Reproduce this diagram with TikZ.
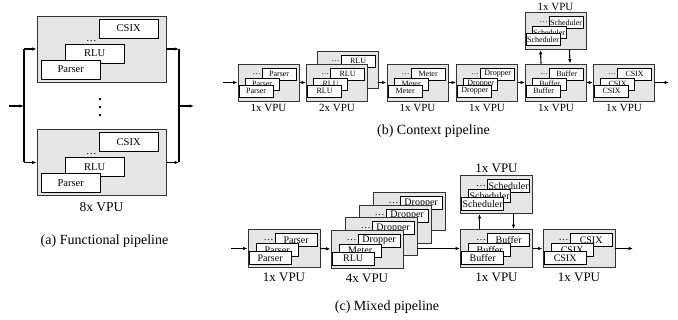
\documentclass[tikz,border=0pt]{standalone}
\usepackage{fontspec}
\setmainfont{Liberation Serif}
\usetikzlibrary{calc,positioning,arrows.meta}

\tikzset{
  infont/.style={font=\fontsize{8}{8}\selectfont},
  vpu/.style={draw=black!80, fill=black!10, line width=0.9pt, inner sep=0pt},
  inbox/.style={draw, fill=white, line width=0.6pt, inner sep=0pt, infont},
  dots/.style={inner sep=1pt, infont},
  toback/.style={xshift=-3pt, yshift=-4pt},
  tomid/.style={xshift=-17pt, yshift=-10pt},
  tofront/.style={xshift=-6pt, yshift=-7pt},
  cnt/.style={font=\fontsize{13.5}{14}\selectfont, inner sep=1pt},
  caption/.style={font=\fontsize{14}{16}\selectfont},
  flow/.style={-{Latex[length=4.5pt,width=3.5pt]}, line width=1.1pt},
}

% one VPU: name, centre, back, middle, front
\newcommand\vpu[5]{%
  \node[vpu] (#1) at (#2) {};
  \node[inbox, anchor=north east, toback] (#1-3) at (#1.north east) {#3};
  \node[dots, anchor=east] (#1-d) at (#1-3.west) {\dots};
  \node[inbox, anchor=north east, tomid] (#1-2) at (#1-3.north east) {#4};
  \node[inbox, anchor=north east, tofront] (#1-1) at (#1-2.north east) {#5};
}

\begin{document}
\begin{tikzpicture}[x=1pt, y=-1pt]
  \useasboundingbox (0,0) rectangle (678,320);

  % (a) functional pipeline
  \begin{scope}[infont/.style={font=\fontsize{10.5}{11}\selectfont},
      inbox/.append style={minimum width=59pt, minimum height=19pt},
      vpu/.append style={minimum width=129pt, minimum height=66pt},
      toback/.style={xshift=-8pt, yshift=-3pt},
      tomid/.style={xshift=-34pt, yshift=-25pt},
      tofront/.style={xshift=-24pt, yshift=-16pt},
      dots/.append style={xshift=-1pt, yshift=-12.5pt},
      flow/.append style={line width=1.6pt}]
    \vpu{fa1}{101.5,49}{CSIX}{RLU}{Parser}
    \vpu{fa2}{101.5,162.5}{CSIX}{RLU}{Parser}
    \foreach \y in {99,107,115}
      \fill (100,\y) circle (1.3pt);
    \node[cnt, below=5pt of fa2] (fan) {8x VPU};
    \node[caption] (fcap) at (104.5,241) {(a) Functional pipeline};

    \coordinate (fin) at (9,106);
    \coordinate (fsplit) at (24,106);
    \coordinate (fjoin) at (179,106);
    \coordinate (fout) at (194,106);
    \draw[line width=1.6pt] (fsplit |- fa1.west) -- (fsplit |- fa2.west);
    \draw[line width=1.6pt] (fjoin |- fa1.east) -- (fjoin |- fa2.east);
    \draw[flow] (fin) -- (fsplit);
    \draw[flow] (fsplit |- fa1.west) -- (fa1.west);
    \draw[flow] (fsplit |- fa2.west) -- (fa2.west);
    \draw[flow] (fa1.east) -- (fa1.east -| fjoin);
    \draw[flow] (fa2.east) -- (fa2.east -| fjoin);
    \draw[flow] (fjoin) -- (fout);
  \end{scope}

  % (b) context pipeline
  \begin{scope}[inbox/.append style={minimum width=34pt, minimum height=12pt},
      vpu/.append style={minimum width=61pt, minimum height=37pt},
      cnt/.append style={font=\fontsize{11}{12}\selectfont}]
    \vpu{b1}{268.5,82.5}{Parser}{Parser}{Parser}
    \vpu{b2b}{347.5,70}{RLU}{RLU}{RLU}
    \vpu{b2}{337,82.5}{RLU}{RLU}{RLU}
    \vpu{b3}{417.5,82.5}{Meter}{Meter}{Meter}
    \vpu{b4}{487,82.5}{Dropper}{Dropper}{Dropper}
    \vpu{b5}{556,82.5}{Buffer}{Buffer}{Buffer}
    \vpu{b6}{624,82.5}{CSIX}{CSIX}{CSIX}
    \vpu{bs}{555.5,31}{Scheduler}{Scheduler}{Scheduler}

    \node[cnt, below=2pt of b1] (b1n) {1x VPU};
    \node[cnt, below=2pt of b2] (b2n) {2x VPU};
    \node[cnt, below=2pt of b3] (b3n) {1x VPU};
    \node[cnt, below=2pt of b4] (b4n) {1x VPU};
    \node[cnt, below=2pt of b5] (b5n) {1x VPU};
    \node[cnt, below=2pt of b6] (b6n) {1x VPU};
    \node[cnt, above=0pt of bs] (bsn) {1x VPU};
    \node[caption] (bcap) at (433.5,131) {(b) Context pipeline};

    \coordinate (bin) at (223,82.5);
    \coordinate (bout) at (669,82.5);
    \draw[flow] (bin) -- (b1.west);
    \draw[flow] (b1.east) -- (b2.west);
    \draw[flow] (b2b.east |- b3.west) -- (b3.west);
    \draw[flow] (b3.east) -- (b4.west);
    \draw[flow] (b4.east) -- (b5.west);
    \draw[flow] (b5.east) -- (b6.west);
    \draw[flow] (b6.east) -- (bout);
    \draw[flow] ([xshift=-15pt]b5.north) -- ([xshift=-15pt]bs.south);
    \draw[flow] ([xshift=14pt]bs.south) -- ([xshift=14pt]b5.north);
  \end{scope}

  % (c) mixed pipeline
  \begin{scope}[infont/.style={font=\fontsize{10}{10}\selectfont},
      inbox/.append style={minimum width=42pt, minimum height=13pt},
      vpu/.append style={minimum width=72pt, minimum height=38pt},
      tomid/.style={xshift=-19pt, yshift=-10pt},
      tofront/.style={xshift=-7pt, yshift=-8pt},
      cnt/.append style={font=\fontsize{13}{14}\selectfont}]
    \vpu{c1}{284,248.5}{Parser}{Parser}{Parser}
    \foreach \k in {3,2,1}{
      \vpu{c2l\k}{{367+14*\k},{249-12.5*\k}}{Dropper}{Meter}{RLU}
    }
    \vpu{c2}{367,249}{Dropper}{Meter}{RLU}
    \vpu{c5}{496.5,248.5}{Buffer}{Buffer}{Buffer}
    \vpu{c6}{579,248.5}{CSIX}{CSIX}{CSIX}
    \vpu{cs}{496.5,194.5}{Scheduler}{Scheduler}{Scheduler}

    \node[cnt, below=4pt of c1] (c1n) {1x VPU};
    \node[cnt, below=4pt of c2] (c2n) {4x VPU};
    \node[cnt, below=4pt of c5] (c5n) {1x VPU};
    \node[cnt, below=4pt of c6] (c6n) {1x VPU};
    \node[cnt, above=1pt of cs] (csn) {1x VPU};
    \node[caption] (ccap) at (387,307) {(c) Mixed pipeline};

    \coordinate (cin) at (231,248.5);
    \coordinate (cout) at (633,248.5);
    \draw[flow] (cin) -- (c1.west);
    \draw[flow] (c1.east) -- (c2.west);
    \draw[flow] (c2l1.east |- c5.west) -- (c5.west);
    \draw[flow] (c5.east) -- (c6.west);
    \draw[flow] (c6.east) -- (cout);
    \draw[flow] ([xshift=-17pt]c5.north) -- ([xshift=-17pt]cs.south);
    \draw[flow] ([xshift=17pt]cs.south) -- ([xshift=17pt]c5.north);
  \end{scope}
\end{tikzpicture}
\end{document}
